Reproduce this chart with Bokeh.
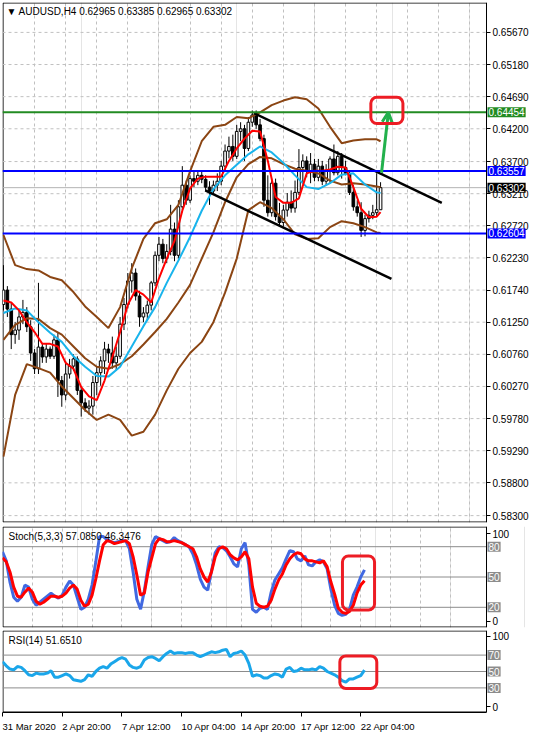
from bokeh.plotting import figure
from bokeh.layouts import column
from bokeh.models import (Range1d, FixedTicker, PrintfTickFormatter, Label,
                          BoxAnnotation, Arrow, OpenHead, Grid, ColumnDataSource)
from bokeh.embed import file_html
from bokeh.resources import INLINE

# ---------------- data ----------------
symbol = "AUDUSD,H4"
time_labels = ["31 Mar 2020", "2 Apr 20:00", "7 Apr 12:00", "10 Apr 04:00",
               "14 Apr 20:00", "17 Apr 12:00", "22 Apr 04:00"]
time_label_bars = [0, 16, 32, 48, 64, 80, 96]
price_ticks = [0.6567, 0.6518, 0.6469, 0.6420, 0.6370, 0.6321, 0.6272, 0.6223,
               0.6174, 0.6125, 0.6076, 0.6027, 0.5978, 0.5929, 0.5880, 0.5830]

opens = [0.6152, 0.6174, 0.6145, 0.6106, 0.6113, 0.6133, 0.6140, 0.6118, 0.6078, 0.6054,
         0.6087, 0.6072, 0.6084, 0.6073, 0.6098, 0.6036, 0.6014, 0.6046, 0.6058, 0.6069,
         0.6021, 0.6002, 0.5994, 0.5997, 0.6033, 0.6048, 0.6066, 0.6084, 0.6078, 0.6063,
         0.6073, 0.6122, 0.6152, 0.6188, 0.6200, 0.6165, 0.6133, 0.6139, 0.6151, 0.6185,
         0.6227, 0.6244, 0.6222, 0.6233, 0.6267, 0.6227, 0.6301, 0.6334, 0.6311, 0.6344,
         0.6340, 0.6349, 0.6343, 0.6331, 0.6325, 0.6334, 0.6340, 0.6363, 0.6386, 0.6393,
         0.6378, 0.6416, 0.6420, 0.6390, 0.6430, 0.6441, 0.6426, 0.6405, 0.6311, 0.6292,
         0.6337, 0.6286, 0.6277, 0.6296, 0.6308, 0.6299, 0.6323, 0.6361, 0.6371, 0.6355,
         0.6366, 0.6346, 0.6363, 0.6340, 0.6355, 0.6374, 0.6353, 0.6378, 0.6361, 0.6352,
         0.6323, 0.6301, 0.6292, 0.6265, 0.6283, 0.6288, 0.6292, 0.62965]
highs = [0.6212, 0.6180, 0.6155, 0.6125, 0.6143, 0.6159, 0.6148, 0.6128, 0.6084, 0.6185,
         0.6092, 0.6092, 0.6088, 0.6106, 0.6110, 0.6043, 0.6066, 0.6069, 0.6076, 0.6073,
         0.6026, 0.6009, 0.6006, 0.6043, 0.6058, 0.6073, 0.6095, 0.6092, 0.6103, 0.6088,
         0.6133, 0.6162, 0.6200, 0.6215, 0.6207, 0.6173, 0.6148, 0.6158, 0.6188, 0.6233,
         0.6255, 0.6252, 0.6244, 0.6304, 0.6277, 0.6311, 0.6363, 0.6341, 0.6349, 0.6356,
         0.6355, 0.6355, 0.6349, 0.6340, 0.6341, 0.6352, 0.6371, 0.6396, 0.6408, 0.6411,
         0.6426, 0.6430, 0.6426, 0.6438, 0.6448, 0.6448, 0.6435, 0.6411, 0.6349, 0.6344,
         0.6344, 0.6307, 0.6304, 0.6322, 0.6326, 0.6341, 0.6389, 0.6381, 0.6378, 0.6383,
         0.6374, 0.6374, 0.6371, 0.6366, 0.6378, 0.6396, 0.6386, 0.6383, 0.6371, 0.6356,
         0.6334, 0.6311, 0.6308, 0.6289, 0.6295, 0.6304, 0.6352, 0.63385]
lows = [0.6143, 0.6133, 0.6084, 0.6092, 0.6098, 0.6122, 0.6110, 0.6066, 0.6046, 0.6046,
        0.6063, 0.6063, 0.6069, 0.6069, 0.6011, 0.5996, 0.6006, 0.6039, 0.6051, 0.6014,
        0.5981, 0.5988, 0.5984, 0.5984, 0.6014, 0.6028, 0.6046, 0.6063, 0.6054, 0.6051,
        0.6069, 0.6113, 0.6146, 0.6170, 0.6158, 0.6118, 0.6125, 0.6128, 0.6143, 0.6180,
        0.6218, 0.6215, 0.6215, 0.6227, 0.6218, 0.6222, 0.6296, 0.6304, 0.6307, 0.6331,
        0.6334, 0.6337, 0.6325, 0.6304, 0.6319, 0.6325, 0.6334, 0.6356, 0.6375, 0.6371,
        0.6374, 0.6401, 0.6371, 0.6386, 0.6423, 0.6420, 0.6401, 0.6301, 0.6286, 0.6286,
        0.6280, 0.6271, 0.6271, 0.6286, 0.6292, 0.6292, 0.6319, 0.6337, 0.6346, 0.6337,
        0.6340, 0.6340, 0.6334, 0.6334, 0.6337, 0.6349, 0.6349, 0.6344, 0.6349, 0.6319,
        0.6295, 0.6286, 0.6255, 0.6256, 0.6277, 0.6282, 0.6286, 0.62965]
closes = [0.6174, 0.6145, 0.6106, 0.6113, 0.6133, 0.6140, 0.6118, 0.6078, 0.6054, 0.6087,
          0.6072, 0.6084, 0.6073, 0.6098, 0.6036, 0.6014, 0.6046, 0.6058, 0.6069, 0.6021,
          0.6002, 0.5994, 0.5997, 0.6033, 0.6048, 0.6066, 0.6084, 0.6078, 0.6063, 0.6073,
          0.6122, 0.6152, 0.6188, 0.6200, 0.6165, 0.6133, 0.6139, 0.6151, 0.6185, 0.6227,
          0.6244, 0.6222, 0.6233, 0.6267, 0.6227, 0.6301, 0.6334, 0.6311, 0.6344, 0.6340,
          0.6349, 0.6343, 0.6331, 0.6325, 0.6334, 0.6340, 0.6363, 0.6386, 0.6393, 0.6378,
          0.6416, 0.6420, 0.6390, 0.6430, 0.6441, 0.6426, 0.6405, 0.6311, 0.6292, 0.6337,
          0.6286, 0.6277, 0.6296, 0.6308, 0.6299, 0.6323, 0.6361, 0.6371, 0.6355, 0.6366,
          0.6346, 0.6363, 0.6340, 0.6355, 0.6374, 0.6353, 0.6378, 0.6361, 0.6352, 0.6323,
          0.6301, 0.6292, 0.6265, 0.6283, 0.6288, 0.6292, 0.62965, 0.63302]

# indicator lines read at every third bar
band_bars = [0, 3, 6, 9, 12, 15, 18, 21, 24, 27, 30, 33, 36, 39, 42, 45, 48, 51, 54, 57,
             60, 63, 66, 69, 72, 75, 78, 81, 84, 87, 90, 93, 96, 97]
bb_upper = [0.6258, 0.6212, 0.6206, 0.6204, 0.6194, 0.6189, 0.6171, 0.6149, 0.6133, 0.6116,
            0.6148, 0.6207, 0.6252, 0.6276, 0.6282, 0.6304, 0.6355, 0.6401, 0.6423, 0.6426,
            0.6438, 0.6436, 0.6445, 0.6456, 0.6463, 0.6468, 0.6465, 0.6451, 0.6423, 0.6398,
            0.6402, 0.6404, 0.6404, 0.6401]
bb_mid = [0.6098, 0.6121, 0.6131, 0.6130, 0.6116, 0.6106, 0.6088, 0.6070, 0.6057, 0.6054,
          0.6061, 0.6073, 0.6091, 0.6110, 0.6130, 0.6155, 0.6182, 0.6222, 0.6262, 0.6308,
          0.6346, 0.6366, 0.6377, 0.6375, 0.6366, 0.6359, 0.6356, 0.6352, 0.6341, 0.6335,
          0.6337, 0.6335, 0.6332, 0.6331]
bb_lower = [0.5920, 0.6014, 0.6061, 0.6055, 0.6048, 0.6027, 0.6009, 0.5991, 0.5976, 0.5984,
            0.5976, 0.5952, 0.5958, 0.5984, 0.6021, 0.6054, 0.6078, 0.6095, 0.6125, 0.6170,
            0.6222, 0.6296, 0.6308, 0.6299, 0.6282, 0.6259, 0.6252, 0.6253, 0.6270, 0.6279,
            0.6276, 0.6270, 0.6262, 0.6261]
slow_ma = [0.6139, 0.6146, 0.6143, 0.6125, 0.6109, 0.6095, 0.6073, 0.6057, 0.6043, 0.6042,
           0.6057, 0.6088, 0.6119, 0.6148, 0.6185, 0.6219, 0.6255, 0.6295, 0.6328, 0.6349,
           0.6365, 0.6381, 0.6393, 0.6384, 0.6368, 0.6349, 0.6331, 0.6328, 0.6337, 0.6350,
           0.6352, 0.6335, 0.6323, 0.6322]
# fast moving average read at every second bar
fast_bars = list(range(0, 97, 2)) + [97]
fast_ma = [0.6158, 0.6155, 0.6143, 0.6125, 0.6110, 0.6092, 0.6092, 0.6088, 0.6063, 0.6054,
           0.6026, 0.6012, 0.6006, 0.6036, 0.6072, 0.6110, 0.6152, 0.6174, 0.6167, 0.6155,
           0.6192, 0.6222, 0.6249, 0.6295, 0.6329, 0.6344, 0.6347, 0.6347, 0.6347, 0.6371,
           0.6390, 0.6405, 0.6417, 0.6416, 0.6371, 0.6316, 0.6307, 0.6307, 0.6314, 0.6352,
           0.6356, 0.6356, 0.6358, 0.6362, 0.6361, 0.6331, 0.6298, 0.6285, 0.6286, 0.6293]

stoch_k = [75, 66, 45, 30, 26, 30, 42, 40, 28, 22,
           25, 28, 31, 34, 31, 29, 32, 40, 46, 42,
           30, 18, 20, 28, 42, 65, 90, 90, 87, 85,
           84, 85, 86, 86, 78, 55, 28, 18, 36, 60,
           82, 90, 88, 86, 84, 85, 89, 86, 84, 82,
           80, 73, 62, 48, 40, 37, 56, 74, 80, 79,
           76, 70, 63, 60, 78, 84, 62, 18, 15, 19,
           20, 18, 35, 47, 53, 59, 68, 76, 75, 68,
           66, 71, 62, 61, 65, 67, 65, 58, 38, 22,
           14, 12, 13, 18, 32, 40, 50, 57.0850]
stoch_d = [69, 65, 55, 40, 31, 30, 35, 39, 35, 26,
           23, 25, 28, 31, 31, 30, 31, 34, 39, 42,
           38, 27, 21, 23, 32, 48, 66, 82, 86, 85,
           83, 84, 85, 86, 83, 70, 52, 32, 34, 55,
           69, 83, 88, 87, 85, 85, 86, 85, 84, 82,
           80, 78, 70, 58, 50, 45, 55, 70, 78, 80,
           78, 72, 69, 67, 70, 75, 68, 40, 24, 21,
           20, 21, 27, 38, 47, 53, 62, 68, 72, 74,
           73, 68, 66, 66, 65, 64, 66, 60, 45, 33,
           19, 15, 14, 16, 22, 34, 42, 46.3476]
rsi = [62, 57, 53, 52, 56, 55, 51, 46, 45, 48,
       47, 47, 48, 51, 43, 43, 45, 47, 45, 40,
       39, 38, 40, 46, 44, 50, 54, 56, 54, 59,
       62, 65, 67, 65, 58, 55, 54, 56, 64, 67,
       68, 66, 63, 68, 72, 75, 72, 73, 73, 72,
       73, 73, 70, 68, 70, 72, 74, 73, 74, 76,
       77, 68, 72, 73, 75, 70, 60, 44, 46, 45,
       42, 42, 45, 47, 46, 43, 53, 55, 50, 51,
       54, 52, 52, 53, 52, 56, 54, 50, 48, 46,
       43, 39, 37, 41, 41, 43, 45, 51.6510]

level_resistance = 0.64454
level_upper = 0.63557
level_lower = 0.62604
channel_top_bars = [64.4, 112.75]
channel_top_prices = [0.6444, 0.6307]
channel_bottom_bars = [51.9, 99.8]
channel_bottom_prices = [0.6326, 0.6191]
arrow_bars = [97.25, 99.0]
arrow_prices = [0.6353, 0.6445]
target_box = [94.5, 102.75, 0.6428, 0.6468]     # left, right, bottom, top
stoch_box = [91.1, 99.7, 17.4, 70.8]
rsi_box = [90.4, 100.3, 29.4, 69.0]
stoch_levels = [80, 50, 20]
rsi_levels = [70, 50, 30]

# ---------------- layout / style ----------------
FONT = "Liberation Sans"
W = 530
BL = 2
FRAME_W = W - BL          # frame spans the axis strip too
AXIS_PX = 484             # pixel position of the price axis inside the frame
MAIN_X0, MAIN_AX = -0.25, 124.25
MAIN_Y = (0.58195, 0.66126)
SUB_X0, SUB_AX = 0.0, 129.7
GRID_C = "#C0C0C0"
PAINT_RED = "#ED1C24"
PAINT_GREEN = "#22B14C"
BROWN = "#8B4513"

HAS_PAD = "padding" in Label.properties()
HAS_RADIUS = "border_radius" in BoxAnnotation.properties()


def make_fig(height, x0, ax_x, yr, top=2, bottom=2, xaxis=None, grid_end=128):
    x_end = x0 + (ax_x - x0) * FRAME_W / AXIS_PX
    f = figure(width=W, height=height, x_range=Range1d(x0, x_end), y_range=Range1d(*yr),
               output_backend="svg", toolbar_location=None, x_axis_location=xaxis,
               y_axis_location="right", min_border_left=BL, min_border_right=0,
               min_border_top=top, min_border_bottom=bottom)
    f.outline_line_color = None
    f.background_fill_color = "white"
    f.border_fill_color = "white"
    ax = f.yaxis[0]
    ax.fixed_location = ax_x
    ax.axis_line_color = "black"
    ax.major_tick_out = 4
    ax.major_tick_in = 0
    ax.minor_tick_line_color = None
    ax.major_label_text_font = FONT
    ax.major_label_text_font_size = "10px"
    ax.major_label_text_color = "black"
    ax.major_label_standoff = 2
    f.ygrid.visible = False
    f.add_layout(Grid(dimension=0, ticker=FixedTicker(ticks=list(range(8, grid_end, 8))),
                      grid_line_color=GRID_C, grid_line_dash="3 3"))
    return f


def frame_border(fig, x0, ax_x, yr, frame_h):
    dx = (ax_x - x0) / AXIS_PX * 0.5
    dy = (yr[1] - yr[0]) / frame_h * 0.5
    fig.add_layout(BoxAnnotation(left=x0 + dx, right=ax_x, bottom=yr[0] + dy, top=yr[1] - dy,
                                 fill_alpha=0, line_color="black", line_alpha=1.0,
                                 line_width=1, level="underlay"))


def hlines(fig, x0, ax_x, ys, color, width=1, dash="solid", level="glyph"):
    n = len(ys)
    fig.segment(x0=[x0] * n, y0=ys, x1=[ax_x] * n, y1=ys, line_color=color,
                line_width=width, line_dash=dash, level=level)


def tag(fig, ax_x, y, text, bg, fg="white"):
    kw = dict(x=ax_x, y=y, x_offset=1, text=text, text_font=FONT, text_font_size="10px",
              text_color=fg, text_baseline="middle", text_align="left",
              background_fill_color=bg, background_fill_alpha=1.0, level="overlay")
    if HAS_PAD:
        kw["padding"] = 1
    fig.add_layout(Label(**kw))


def box(fig, b):
    kw = dict(left=b[0], right=b[1], bottom=b[2], top=b[3], fill_alpha=0,
              line_color=PAINT_RED, line_alpha=1.0, line_width=3, level="overlay")
    if HAS_RADIUS:
        kw["border_radius"] = 6
    fig.add_layout(BoxAnnotation(**kw))


# ---------------- main price panel ----------------
MAIN_H, MAIN_TOP, MAIN_BOT = 524, 2, 2
p = make_fig(MAIN_H, MAIN_X0, MAIN_AX, MAIN_Y, top=MAIN_TOP, bottom=MAIN_BOT, grid_end=124)
p.yaxis[0].ticker = FixedTicker(ticks=price_ticks)
p.yaxis[0].formatter = PrintfTickFormatter(format="%.5f")
hlines(p, MAIN_X0, MAIN_AX, price_ticks, GRID_C, dash="3 3")
hlines(p, MAIN_X0, MAIN_AX, [closes[-1]], "#B4B4B4")
frame_border(p, MAIN_X0, MAIN_AX, MAIN_Y, MAIN_H - MAIN_TOP - MAIN_BOT)

bars = list(range(len(opens)))
src = ColumnDataSource(dict(
    bar=bars, high=highs, low=lows,
    top=[max(o, c) for o, c in zip(opens, closes)],
    bottom=[min(o, c) for o, c in zip(opens, closes)],
    fill=["white" if c >= o else "black" for o, c in zip(opens, closes)]))
p.segment("bar", "low", "bar", "high", source=src, line_color="black", line_width=1)
p.vbar(x="bar", width=0.68, top="top", bottom="bottom", source=src,
       fill_color="fill", line_color="black", line_width=1)

p.line(band_bars, bb_upper, line_color=BROWN, line_width=2)
p.line(band_bars, bb_mid, line_color=BROWN, line_width=2)
p.line(band_bars, bb_lower, line_color=BROWN, line_width=2)
p.line(band_bars, slow_ma, line_color="#19B4EC", line_width=2)
p.line(fast_bars, fast_ma, line_color="#FF0000", line_width=2)

p.line(channel_top_bars, channel_top_prices, line_color="black", line_width=2.5)
p.line(channel_bottom_bars, channel_bottom_prices, line_color="black", line_width=2.5)

hlines(p, MAIN_X0, MAIN_AX, [level_resistance], "#228B22", width=2)
hlines(p, MAIN_X0, MAIN_AX, [level_upper, level_lower], "#0000FF", width=2)

p.add_layout(Arrow(end=OpenHead(size=10, line_color=PAINT_GREEN, line_width=3),
                   x_start=arrow_bars[0], y_start=arrow_prices[0],
                   x_end=arrow_bars[1], y_end=arrow_prices[1],
                   line_color=PAINT_GREEN, line_width=3))
box(p, target_box)

tag(p, MAIN_AX, level_resistance, f"{level_resistance:.5f}", "#228B22")
tag(p, MAIN_AX, level_upper, f"{level_upper:.5f}", "#0000FF")
tag(p, MAIN_AX, closes[-1], f"{closes[-1]:.5f}", "black")
tag(p, MAIN_AX, level_lower, f"{level_lower:.5f}", "#0000FF")

header = (f"\u25BC {symbol}  {opens[-1]:.5f} {highs[-1]:.5f} "
          f"{lows[-1]:.5f} {closes[-1]:.5f}")
p.add_layout(Label(x=MAIN_X0, y=MAIN_Y[1], x_offset=4, y_offset=-3, text=header,
                   text_font=FONT, text_font_size="10px", text_color="black",
                   text_baseline="top", text_align="left"))

# ---------------- stochastic panel ----------------
ST_H, ST_TOP, ST_BOT = 104, 2, 1
s = make_fig(ST_H, SUB_X0, SUB_AX, (0, 100), top=ST_TOP, bottom=ST_BOT)
s.yaxis[0].ticker = FixedTicker(ticks=[6, 93])
s.yaxis[0].major_label_overrides = {6: "0", 93: "100"}
hlines(s, SUB_X0, SUB_AX, stoch_levels, "#8C8C8C")
frame_border(s, SUB_X0, SUB_AX, (0, 100), ST_H - ST_TOP - ST_BOT)
s.line(bars, stoch_k, line_color="#4169E1", line_width=3)
s.line(bars, stoch_d, line_color="#FF0000", line_width=3)
box(s, stoch_box)
for lv in stoch_levels:
    tag(s, SUB_AX, lv, str(lv), "#8C8C8C")
s.add_layout(Label(x=SUB_X0, y=100, x_offset=6, y_offset=-4,
                   text=f"Stoch(5,3,3) {stoch_k[-1]:.4f} {stoch_d[-1]:.4f}",
                   text_font=FONT, text_font_size="10px", text_color="black",
                   text_baseline="top", text_align="left"))

# ---------------- RSI panel ----------------
RSI_H = 106
r = make_fig(RSI_H, SUB_X0, SUB_AX, (0, 100), top=2, bottom=0, xaxis="below")
r.xgrid.visible = False
r.yaxis[0].ticker = FixedTicker(ticks=[7, 93])
r.yaxis[0].major_label_overrides = {7: "0", 93: "100"}
hlines(r, SUB_X0, SUB_AX, rsi_levels, "#8C8C8C")
frame_border(r, SUB_X0, SUB_AX, (0, 100), 84)
r.line(bars, rsi, line_color="#1AA6EA", line_width=3)
box(r, rsi_box)
for lv in rsi_levels:
    tag(r, SUB_AX, lv, str(lv), "#8C8C8C")
r.add_layout(Label(x=SUB_X0, y=100, x_offset=6, y_offset=-4,
                   text=f"RSI(14) {rsi[-1]:.4f}",
                   text_font=FONT, text_font_size="10px", text_color="black",
                   text_baseline="top", text_align="left"))

# time axis: MT4 labels start at their bar, so centre them to the right of it
CHAR_W = {" ": 0.278, ":": 0.278, "A": 0.667, "M": 0.833, "p": 0.556, "r": 0.333, "a": 0.556}
XFS = 9.5


def text_w(t):
    return sum(CHAR_W.get(ch, 0.556) for ch in t) * XFS


px_per_bar = AXIS_PX / (SUB_AX - SUB_X0)
centers = [round(b + text_w(t) / 2.0 / px_per_bar, 3) for b, t in zip(time_label_bars, time_labels)]
xa = r.xaxis[0]
xa.ticker = FixedTicker(ticks=centers, minor_ticks=time_label_bars)
xa.major_label_overrides = {c: t for c, t in zip(centers, time_labels)}
xa.bounds = (SUB_X0, SUB_AX)
xa.axis_line_color = "black"
xa.major_tick_out = 0
xa.major_tick_in = 0
xa.minor_tick_out = 4
xa.minor_tick_in = 0
xa.minor_tick_line_color = "black"
xa.major_label_standoff = 4
xa.major_label_text_font = FONT
xa.major_label_text_font_size = f"{XFS}px"
xa.major_label_text_color = "black"

layout = column(p, s, r)
open("out.html", "w").write(file_html(layout, INLINE))
